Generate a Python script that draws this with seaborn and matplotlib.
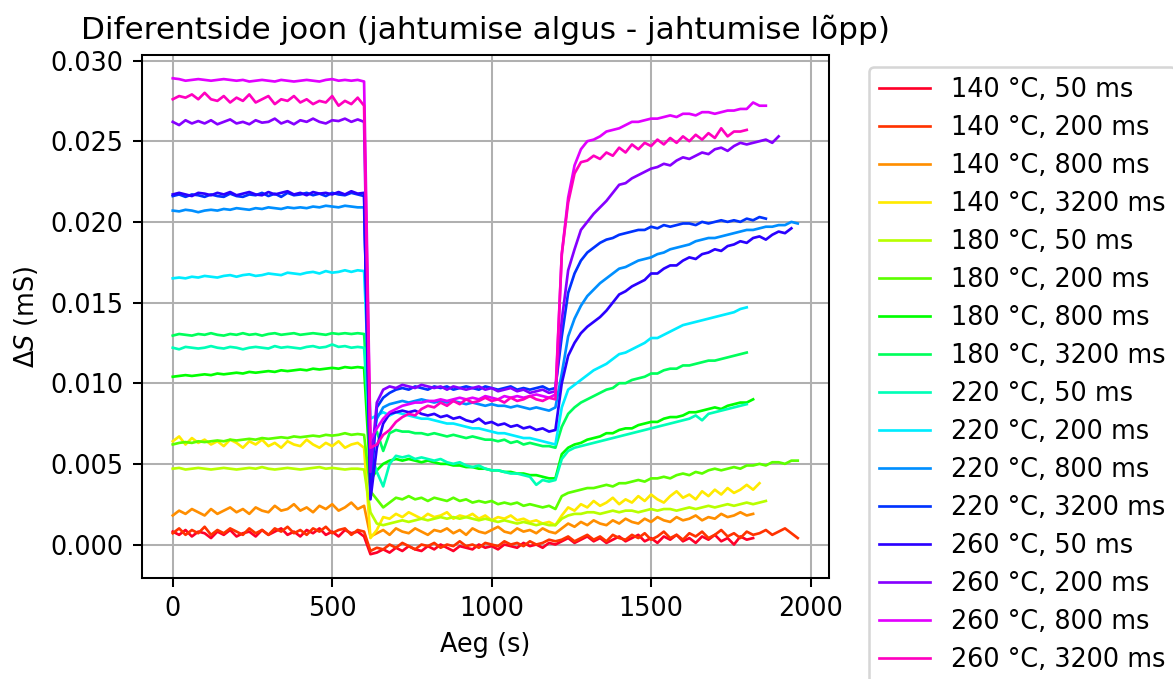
import matplotlib
matplotlib.use("Agg")
import matplotlib.pyplot as plt
import numpy as np
import seaborn as sns

# Sampling times (s)
TIME_S = [0, 20, 40, 60, 80, 100, 120, 140, 160, 180, 200, 220, 240, 260, 280, 300,
          320, 340, 360, 380, 400, 420, 440, 460, 480, 500, 520, 540, 560, 580, 600,
          620, 640, 660, 680, 700, 720, 740, 760, 780, 800, 820, 840, 860, 880, 900,
          920, 940, 960, 980, 1000, 1020, 1040, 1060, 1080, 1100, 1120, 1140, 1160,
          1180, 1200, 1220, 1240, 1260, 1280, 1300, 1320, 1340, 1360, 1380, 1400,
          1420, 1440, 1460, 1480, 1500, 1520, 1540, 1560, 1580, 1600, 1620, 1640,
          1660, 1680, 1700, 1720, 1740, 1760, 1780, 1800, 1820, 1840, 1860, 1880,
          1900, 1920, 1940, 1960]

LABELS = ["140 °C, 50 ms", "140 °C, 200 ms", "140 °C, 800 ms", "140 °C, 3200 ms",
          "180 °C, 50 ms", "180 °C, 200 ms", "180 °C, 800 ms", "180 °C, 3200 ms",
          "220 °C, 50 ms", "220 °C, 200 ms", "220 °C, 800 ms", "220 °C, 3200 ms",
          "260 °C, 50 ms", "260 °C, 200 ms", "260 °C, 800 ms", "260 °C, 3200 ms"]

# Values in units of 1e-4 mS
S_140_50 = [8, 6, 9, 5, 8, 7, 4, 8, 6, 9, 5, 7, 8, 5, 9, 6, 8, 10, 6, 8, 5, 9, 7, 10, 6, 8, 5, 9, 7, 8, 5,
            -6, -5, -3, -5, -2, -4, -1, -3, -4, -1, -3, 0, -2, -4, -1, -2, -3, 0, -2, -1, -3, 0, -1, -2, 1, -1, 0, -2, 1, 0,
            2, 4, 1, 3, 5, 2, 4, 1, 3, 5, 2, 4, 6, 2, 4, 1, 5, 3, 6, 2, 4, 1, 5, 3, 6, 2, 4, 0, 5, 3, 4]
S_140_200 = [7, 10, 6, 9, 7, 11, 6, 9, 7, 10, 8, 6, 10, 7, 9, 6, 10, 8, 11, 7, 9, 6, 10, 8, 11, 7, 9, 10, 6, 9, 8,
             -4, -2, -3, 0, -2, 1, -1, -3, 0, -1, 1, -2, 0, -1, 2, -1, 0, -2, 1, 0, -1, 2, 0, 1, -1, 2, 0, 1, 3, 2,
             3, 5, 2, 4, 6, 3, 5, 2, 6, 4, 3, 6, 4, 7, 3, 5, 8, 4, 6, 3, 7, 5, 8, 4, 6, 9, 5, 7, 4, 8, 6, 7, 9, 6, 8, 10, 7, 4]
S_140_800 = [18, 21, 19, 22, 20, 18, 22, 19, 21, 23, 20, 22, 19, 23, 21, 20, 24, 21, 22, 25, 21, 23, 20, 24, 22, 25, 21, 23, 26, 22, 24,
             5, 7, 9, 6, 10, 8, 7, 10, 8, 6, 9, 8, 10, 7, 9, 6, 10, 8, 7, 9, 11, 8, 7, 10, 8, 9, 7, 10, 8, 7,
             10, 13, 11, 14, 12, 15, 13, 12, 15, 13, 16, 14, 13, 16, 14, 17, 15, 14, 17, 15, 16, 18, 15, 17, 16, 19, 17, 18, 20, 18, 19]
S_140_3200 = [64, 67, 62, 66, 63, 65, 62, 64, 61, 65, 63, 60, 64, 62, 65, 61, 63, 60, 64, 62, 61, 65, 62, 60, 63, 61, 64, 60, 62, 63, 60,
              4, 9, 17, 16, 19, 17, 20, 18, 16, 19, 17, 18, 20, 16, 18, 17, 19, 16, 18, 15, 17, 16, 18, 15, 16, 14, 15, 13, 14, 12,
              18, 23, 21, 25, 23, 27, 24, 26, 29, 25, 28, 26, 30, 27, 31, 28, 26, 30, 33, 29, 31, 28, 33, 30, 34, 31, 35, 32, 34, 37, 34, 38]
S_180_50 = [47, 47.5, 46.5, 47, 47.5, 47, 46.5, 47, 47.5, 47, 46.5, 47, 47.5, 47, 48, 47, 46.5, 47, 47.5, 47, 46.5, 47, 47.5, 48, 47, 47.5, 47, 46.5, 47, 47, 46.5,
            20, 13, 12, 13, 14, 15, 14, 15, 16, 15, 16, 17, 16, 17, 16, 17, 16, 15, 16, 15, 14, 15, 14, 13, 14, 13, 12, 13, 12, 12,
            16, 18, 19, 19, 20, 20, 19, 20, 21, 20, 21, 21, 20, 21, 22, 21, 22, 22, 21, 22, 23, 22, 23, 24, 23, 24, 25, 24, 25, 26, 25, 26, 27]
S_180_200 = [62, 63, 63.5, 63, 64, 63.5, 64, 64.5, 64, 65, 64.5, 65, 65.5, 65, 66, 65.5, 66, 66.5, 66, 67, 66.5, 67, 67.5, 67, 68, 67.5, 68, 69, 68, 68.5, 68,
             33, 28, 23, 26, 29, 28, 30, 28, 29, 27, 29, 28, 27, 29, 27, 28, 26, 27, 26, 27, 25, 26, 25, 26, 24, 25, 24, 23, 24, 22,
             30, 32, 33, 34, 35, 35, 36, 37, 36, 38, 38, 39, 40, 39, 41, 41, 42, 41, 43, 44, 43, 45, 44, 46, 47, 46, 47, 48, 47, 49, 49, 50, 49, 51, 51, 50, 52, 52]
S_180_800 = [104, 104.5, 105, 104.5, 105, 105.5, 105, 106, 105.5, 106, 106.5, 106, 107, 106.5, 107, 107.5, 107, 108, 107.5, 108, 108.5, 108, 109, 108.5, 109, 109.5, 109, 110, 109.5, 110, 109.5,
             40, 46, 50, 52, 53, 52, 53, 52, 51, 52, 51, 50, 50, 49, 49, 48, 48, 47, 47, 46, 46, 45, 45, 44, 44, 43, 43, 42, 41, 41,
             56, 60, 62, 63, 65, 66, 67, 69, 69, 71, 72, 72, 74, 75, 76, 76, 78, 79, 79, 80, 82, 82, 83, 84, 85, 84, 86, 87, 88, 88, 90]
S_180_3200 = [129.5, 130.5, 130, 129.5, 130.5, 130, 131, 130, 129.5, 130.5, 130, 131, 130, 130.5, 129.5, 130.5, 131, 130, 130.5, 131, 130, 130.5, 131, 130.5, 130, 131, 130.5, 131, 130.5, 131, 130.5,
              66, 70, 58, 69, 71, 70, 70, 69, 69, 68, 69, 68, 67, 68, 67, 66, 67, 66, 65, 65, 64, 65, 63, 64, 62, 63, 62, 61, 61, 60,
              73, 81, 85, 88, 90, 92, 94, 96, 97, 100, 100, 102, 103, 104, 106, 106, 108, 109, 109, 111, 111, 112, 113, 114, 114, 115, 116, 117, 118, 119]
S_220_50 = [122, 121, 122.5, 122, 121.5, 122, 123, 122, 121.5, 122.5, 122, 121, 122, 122.5, 122, 121.5, 123, 122, 122.5, 122, 121.5, 122.5, 123, 122, 122.5, 124, 122.5, 123, 122, 122.5, 122,
            58, 45, 36, 50, 55, 54, 55, 53, 54, 53, 52, 53, 51, 50, 51, 49, 48, 49, 47, 46, 46, 45, 44, 44, 43, 42, 37, 40, 39, 40,
            53, 58, 60, 61, 62, 63, 64, 65, 66, 67, 68, 69, 70, 71, 72, 73, 74, 75, 76, 77, 78, 80, 77, 81, 82, 83, 84, 85, 86, 87]
S_220_200 = [165, 165.5, 165, 166, 165.5, 166.5, 166, 165.5, 166.5, 167, 166, 167, 167.5, 166.5, 167, 168, 167.5, 167, 168.5, 168, 167.5, 168.5, 169, 168, 169.5, 168.5, 169, 170, 169, 170, 169.5,
             78, 80, 82, 80, 82, 81, 80, 79, 78, 78, 77, 76, 75, 75, 74, 73, 72, 72, 71, 70, 69, 69, 68, 67, 66, 66, 65, 64, 63, 62,
             85, 96, 99, 102, 105, 108, 110, 112, 115, 118, 119, 121, 123, 125, 128, 128, 130, 132, 134, 136, 137, 138, 139, 140, 141, 142, 143, 144, 146, 147]
S_220_800 = [207, 206.5, 207.5, 207, 206, 207, 207.5, 207, 208, 207.5, 208.5, 208, 207.5, 208.5, 208, 209, 208.5, 208, 209, 208.5, 209, 208.5, 209.5, 209, 210, 209.5, 209, 210, 209.5, 209, 209,
             55, 78, 85, 87, 88, 89, 88, 89, 90, 89, 88, 89, 88, 89, 88, 87, 88, 87, 86, 87, 86, 86, 85, 86, 85, 84, 85, 84, 83, 85,
             106, 129, 140, 148, 154, 158, 162, 165, 168, 171, 172, 174, 176, 177, 178, 180, 181, 183, 184, 185, 186, 188, 189, 190, 190, 191, 192, 193, 194, 195, 195, 196, 197, 197, 198, 198, 200, 199]
S_220_3200 = [216, 217, 215.5, 217, 216.5, 215.5, 217, 216, 215.5, 217.5, 216, 215.5, 217, 216.5, 218, 216, 217.5, 215.5, 218, 216.5, 217, 218, 216.5, 217.5, 216, 218, 217, 216.5, 218, 217, 216,
              30, 85, 91, 94, 96, 97, 96, 98, 97, 96, 98, 97, 98, 96, 97, 98, 97, 96, 98, 97, 96, 97, 98, 96, 97, 96, 97, 98, 96, 97,
              129, 156, 168, 176, 181, 184, 187, 189, 190, 192, 193, 194, 195, 195, 197, 196, 198, 197, 198, 199, 199, 198, 200, 199, 200, 201, 200, 201, 200, 202, 201, 203, 202]
S_260_50 = [217, 218, 217, 216, 218, 217.5, 216.5, 218, 217, 218.5, 216.5, 217.5, 218.5, 217, 216.5, 218.5, 217, 218, 219, 217, 218, 216.5, 218.5, 217.5, 218, 217, 218.5, 217, 219, 217.5, 218,
            28, 60, 75, 81, 82, 83, 82, 83, 81, 80, 81, 79, 80, 78, 79, 77, 76, 78, 75, 76, 74, 75, 73, 74, 72, 73, 71, 72, 70, 71,
            100, 117, 125, 131, 135, 138, 141, 145, 150, 155, 157, 160, 162, 164, 168, 168, 171, 173, 173, 176, 178, 177, 180, 181, 183, 182, 185, 186, 188, 187, 190, 191, 189, 192, 194, 193, 196]
S_260_200 = [262, 260, 263, 261, 262.5, 261, 263, 260.5, 262, 263.5, 261, 262, 260.5, 263, 261.5, 262, 264, 261, 262.5, 260.5, 263, 262, 264, 262, 261, 263, 262.5, 264, 262, 263.5, 262,
             45, 88, 96, 98, 97, 99, 98, 97, 99, 98, 97, 98, 96, 98, 97, 96, 97, 98, 96, 97, 95, 96, 97, 95, 96, 94, 95, 96, 94, 95,
             139, 170, 183, 195, 200, 205, 209, 213, 218, 223, 224, 227, 229, 231, 233, 234, 236, 235, 238, 240, 239, 241, 243, 242, 245, 246, 244, 247, 249, 248, 249, 250, 251, 249, 253]
S_260_800 = [289, 288.5, 287.5, 288, 288.5, 288, 287.5, 288, 288.5, 288, 287.5, 288, 287, 287.5, 288, 287.5, 287, 288, 287.5, 287, 287.5, 288, 287.5, 287, 288, 288.5, 287.5, 288, 287.5, 288, 287,
             65, 72, 78, 82, 84, 86, 87, 88, 88, 89, 89, 90, 89, 90, 91, 90, 91, 90, 92, 91, 90, 92, 91, 92, 91, 92, 93, 92, 91, 93,
             180, 215, 235, 245, 250, 251, 253, 256, 257, 258, 260, 262, 262, 263, 264, 264, 265, 266, 265, 267, 267, 266, 268, 268, 267, 268, 269, 269, 270, 270, 274, 272, 272]
S_260_3200 = [276, 278, 277, 279, 276, 280, 276, 275, 278, 274, 277, 275, 279, 274, 276, 278, 273, 276, 275, 278, 274, 276, 273, 275, 274, 278, 272, 275, 273, 277, 272,
              60, 62, 68, 71, 76, 79, 81, 80, 84, 86, 85, 88, 86, 89, 87, 90, 88, 89, 91, 89, 90, 88, 91, 89, 90, 92, 90, 89, 91, 90,
              180, 212, 230, 237, 238, 241, 239, 243, 241, 246, 243, 248, 245, 249, 247, 251, 248, 252, 249, 253, 250, 254, 251, 255, 252, 258, 253, 256, 256, 257]

SERIES = [S_140_50, S_140_200, S_140_800, S_140_3200,
          S_180_50, S_180_200, S_180_800, S_180_3200,
          S_220_50, S_220_200, S_220_800, S_220_3200,
          S_260_50, S_260_200, S_260_800, S_260_3200]
UNIT = 1e-4

W, H, DPI = 1173, 679, 184
fig = plt.figure(figsize=(W / DPI, H / DPI), dpi=DPI)
ax = fig.add_axes([141.5 / W, 1 - 578 / H, (829 - 141.5) / W, (578 - 54.5) / H])

colors = plt.get_cmap("gist_rainbow")(np.linspace(0, 1, len(SERIES)))
for lab, vals, col in zip(LABELS, SERIES, colors):
    t = TIME_S[:len(vals)]
    y = np.asarray(vals, dtype=float) * UNIT
    sns.lineplot(x=t, y=y, color=col, label=lab, linewidth=1.05, ax=ax,
                 estimator=None, errorbar=None, sort=False)

ax.grid(True)
ax.set_title("Diferentside joon (jahtumise algus - jahtumise lõpp)", fontsize=12.2)
ax.set_xlabel("Aeg (s)")
ax.set_ylabel(r"$\Delta S$ (mS)")
ax.legend(loc="upper left", bbox_to_anchor=(869 / W, 1 - 66.7 / H),
          bbox_transform=fig.transFigure, borderaxespad=0, labelspacing=0.47)

fig.savefig("out.png", dpi=DPI)
